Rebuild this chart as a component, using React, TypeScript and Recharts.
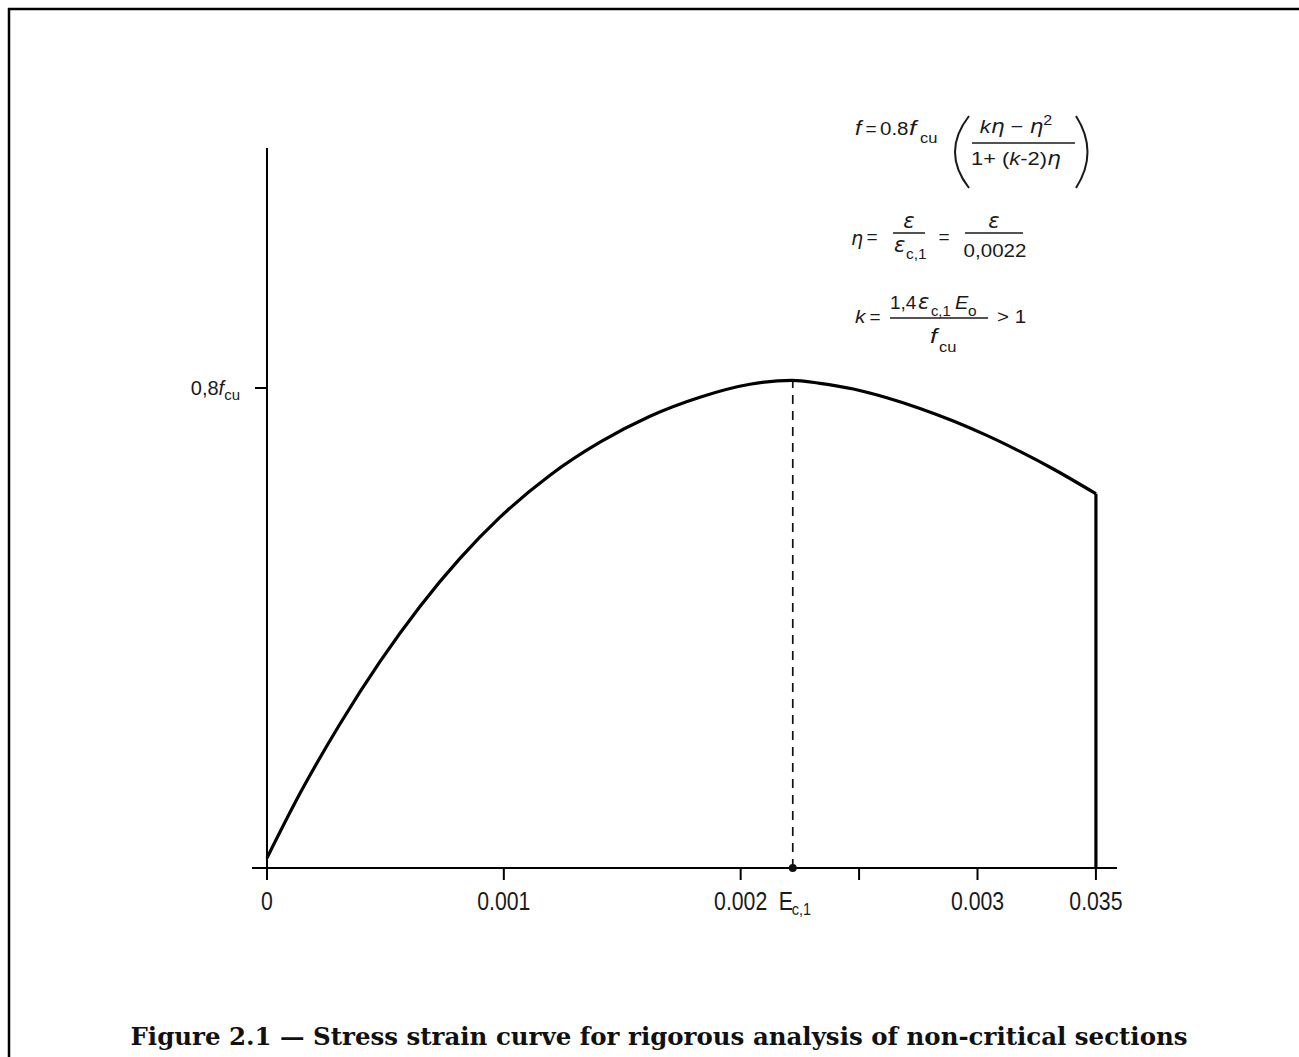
import React from 'react';
import { LineChart, Line, XAxis, YAxis, ReferenceLine, ReferenceDot } from 'recharts';

// strain values, stress as a fraction of fcu
const strain = [0, 0.000139, 0.000308, 0.000477, 0.000646, 0.000815, 0.000984, 0.001195, 0.001406, 0.001617, 0.001828, 0.002039, 0.002217, 0.002335, 0.002476, 0.002617, 0.002757, 0.002898, 0.003039, 0.003179, 0.00332, 0.0035];
const stress = [0.0167, 0.124, 0.24, 0.344, 0.436, 0.516, 0.5847, 0.6547, 0.7097, 0.753, 0.7847, 0.8063, 0.8127, 0.8078, 0.7983, 0.7838, 0.766, 0.745, 0.721, 0.6943, 0.665, 0.6237];

// vertical drop at ultimate strain
const dropStrain = [0.0035, 0.0035];
const dropStress = [0.6237, 0];

const xTicks = [0, 0.001, 0.002, 0.0025, 0.003, 0.0035];
const xTickLabels = ['0', '0.001', '0.002', '', '0.003', '0.035'];
const yTicks = [0.8];
const yTickLabels = ['0,8'];

const ec1 = 0.00222;
const peakStress = 0.8127;

const curveData = strain.map((x, i) => ({ x, y: stress[i] }));
const dropData = dropStrain.map((x, i) => ({ x, y: dropStress[i] }));

const SANS = "'Liberation Sans', Arial, sans-serif";
const GREEK = "'DejaVu Sans', 'Liberation Sans', sans-serif";
const SERIF = "'DejaVu Serif', 'Liberation Serif', serif";
const INK = '#1a1a1a';

// text squeezed or widened horizontally around its anchor point
const T = ({ x, y, s = 19, i = false, a = 'start', sx = 1, f, children }: any) => (
    <text
        x={x}
        y={y}
        fontSize={s}
        fontFamily={f}
        fontStyle={i ? 'italic' : 'normal'}
        textAnchor={a}
        transform={sx !== 1 ? `translate(${x} ${y}) scale(${sx} 1) translate(${-x} ${-y})` : undefined}
    >
        {children}
    </text>
);

const XTick = (props: any) => {
    const { x, y, payload } = props;
    const i = xTicks.indexOf(payload.value);
    const label = i >= 0 ? xTickLabels[i] : '';
    return (
        <g fontFamily={SANS} fill={INK}>
            <T x={x} y={y + 30} s={25} a="middle" sx={0.85}>{label}</T>
        </g>
    );
};

const YTick = (props: any) => {
    const { x, y, payload } = props;
    const i = yTicks.indexOf(payload.value);
    return (
        <g>
            <line x1={x + 3} x2={x + 15} y1={y} y2={y} stroke="#000" strokeWidth={2} />
            <text x={x - 12} y={y + 7} textAnchor="end" fontFamily={SANS} fontSize={20} fill={INK}>
                {yTickLabels[i]}
                <tspan fontStyle="italic">f</tspan>
                <tspan fontSize={15} dy={5}>cu</tspan>
            </text>
        </g>
    );
};

const EcLabel = (props: any) => {
    const vb = props.viewBox || {};
    const cx = vb.x + (vb.width || 0) / 2;
    const cy = vb.y + (vb.height || 0) / 2;
    return (
        <g fontFamily={SANS} fill={INK}>
            <T x={cx - 14} y={cy + 42} s={25} sx={0.85}>E</T>
            <T x={cx - 1} y={cy + 47} s={17} sx={0.85}>c,1</T>
        </g>
    );
};

const Formulas = () => (
    <svg width={1299} height={1057} style={{ position: 'absolute', left: 0, top: 0, pointerEvents: 'none' }}>
        {/* frame, top and left only */}
        <line x1={8} x2={1299} y1={9} y2={9} stroke="#000" strokeWidth={2.5} />
        <line x1={9} x2={9} y1={8} y2={1057} stroke="#000" strokeWidth={2.5} />

        <g fontFamily={SANS} fill={INK}>
            {/* f = 0.8 fcu ( ... ) */}
            <T x={855} y={135} s={20} i sx={1.15}>f</T>
            <T x={871} y={135} a="middle">=</T>
            <T x={880} y={135} sx={1.08}>0.8</T>
            <T x={909} y={135} s={20} i sx={1.3}>f</T>
            <T x={920} y={143} s={15} sx={1.1}>cu</T>
            <path d="M969 116 Q941 152 969 188" fill="none" stroke={INK} strokeWidth={2} />
            <path d="M1076 116 Q1099 152 1076 188" fill="none" stroke={INK} strokeWidth={2} />
            <T x={1016} y={133} a="middle" sx={1.15}>
                <tspan fontStyle="italic">k</tspan>
                <tspan fontFamily={GREEK} fontStyle="italic">η</tspan> − <tspan fontFamily={GREEK} fontStyle="italic">η</tspan>
                <tspan fontSize={14} dy={-8}>2</tspan>
            </T>
            <line x1={972} x2={1075} y1={143} y2={143} stroke={INK} strokeWidth={1.5} />
            <T x={1016} y={165} a="middle" sx={1.15}>
                1+ (<tspan fontStyle="italic">k</tspan>-2)<tspan fontFamily={GREEK} fontStyle="italic">η</tspan>
            </T>

            {/* eta = eps / eps c,1 = eps / 0,0022 */}
            <T x={851} y={245} i f={GREEK}>η</T>
            <T x={872} y={243} a="middle">=</T>
            <T x={909} y={228} a="middle" i f={GREEK} s={21}>ε</T>
            <line x1={893} x2={925} y1={233} y2={233} stroke={INK} strokeWidth={1.5} />
            <T x={894} y={252} i f={GREEK} s={21}>ε</T>
            <T x={906} y={259} s={14} sx={1.1}>c,1</T>
            <T x={944} y={243} a="middle">=</T>
            <T x={994} y={228} a="middle" i f={GREEK} s={21}>ε</T>
            <line x1={965} x2={1023} y1={233} y2={233} stroke={INK} strokeWidth={1.5} />
            <T x={995} y={257} a="middle" sx={1.08}>0,0022</T>

            {/* k = 1,4 eps c,1 Eo / fcu > 1 */}
            <T x={855} y={323} i sx={1.1}>k</T>
            <T x={875} y={323} a="middle">=</T>
            <T x={890} y={309}>1,4</T>
            <T x={918} y={309} i f={GREEK} s={21}>ε</T>
            <T x={931} y={316} s={14} sx={1.05}>c,1</T>
            <T x={955} y={309} i sx={1.05}>E</T>
            <T x={968} y={316} s={14} sx={1.1}>o</T>
            <line x1={890} x2={988} y1={318} y2={318} stroke={INK} strokeWidth={1.5} />
            <T x={930} y={343} s={20} i sx={1.3}>f</T>
            <T x={939} y={352} s={15} sx={1.1}>cu</T>
            <T x={997} y={323} sx={1.08}>&gt; 1</T>
        </g>

        <text x={659} y={1045} textAnchor="middle" fontFamily={SERIF} fontWeight="bold" fontSize={24}
            textLength={1057} lengthAdjust="spacingAndGlyphs" fill="#111">
            Figure 2.1 — Stress strain curve for rigorous analysis of non-critical sections
        </text>
    </svg>
);

const App = () => {
    return (
        <div style={{ position: 'absolute', left: 0, top: 0, width: 1299, height: 1057, background: '#fff' }}>
            <div style={{ position: 'absolute', left: 0, top: 0 }}>
                <LineChart width={1299} height={1057} margin={{ top: 148, right: 182, left: 251, bottom: 129 }}>
                    <XAxis
                        dataKey="x"
                        type="number"
                        domain={[-0.0000633, 0.003589]}
                        allowDataOverflow
                        ticks={xTicks}
                        interval={0}
                        height={60}
                        tickSize={12}
                        tickMargin={0}
                        axisLine={{ stroke: '#000', strokeWidth: 2 }}
                        tickLine={{ stroke: '#000', strokeWidth: 2 }}
                        tick={<XTick />}
                    />
                    <YAxis
                        dataKey="y"
                        type="number"
                        domain={[0, 1.2]}
                        allowDataOverflow
                        ticks={yTicks}
                        width={1}
                        tickSize={0}
                        tickMargin={0}
                        axisLine={false}
                        tickLine={false}
                        tick={<YTick />}
                    />
                    {/* y axis line drawn from the origin */}
                    <ReferenceLine segment={[{ x: 0, y: 0 }, { x: 0, y: 1.2 }]} stroke="#000" strokeWidth={2} />
                    <ReferenceLine
                        segment={[{ x: ec1, y: 0 }, { x: ec1, y: peakStress }]}
                        stroke="#111"
                        strokeWidth={1.7}
                        strokeDasharray="9 7"
                    />
                    <Line
                        data={curveData}
                        dataKey="y"
                        type="monotone"
                        stroke="#000"
                        strokeWidth={3.2}
                        dot={false}
                        activeDot={false}
                        isAnimationActive={false}
                    />
                    <Line
                        data={dropData}
                        dataKey="y"
                        type="linear"
                        stroke="#000"
                        strokeWidth={3.2}
                        dot={false}
                        activeDot={false}
                        isAnimationActive={false}
                    />
                    <ReferenceDot x={ec1} y={0} r={4} fill="#111" stroke="none" label={<EcLabel />} />
                </LineChart>
            </div>
            <Formulas />
        </div>
    );
};

export default App;
